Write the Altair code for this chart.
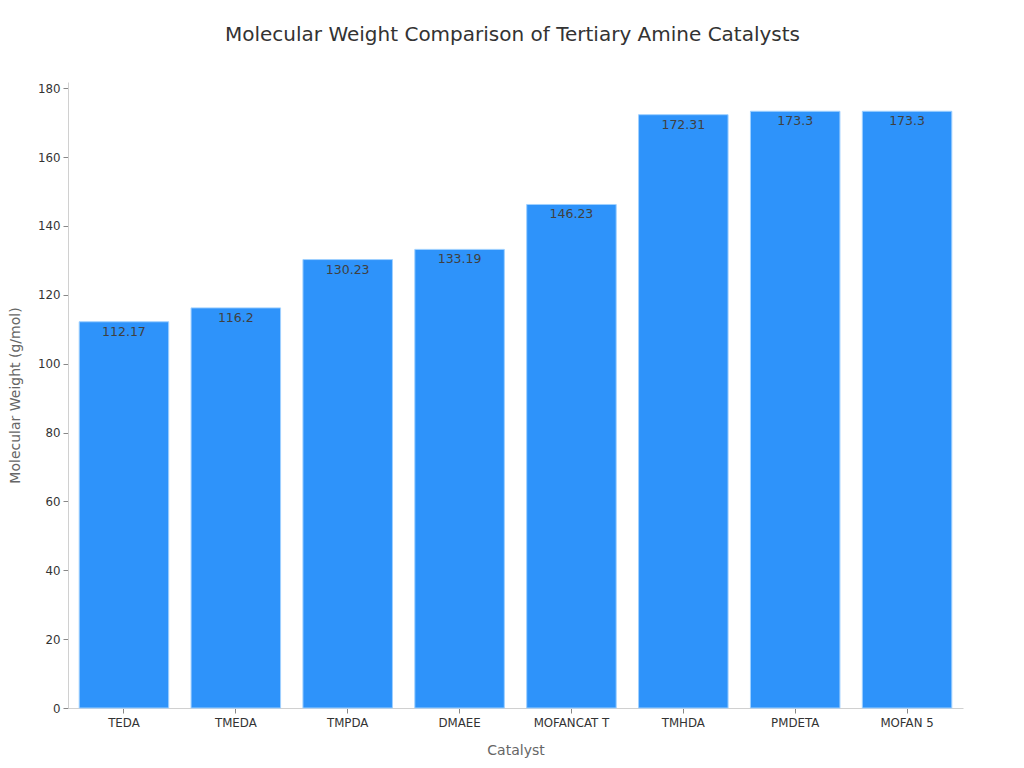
import altair as alt
import pandas as pd

catalysts = ["TEDA", "TMEDA", "TMPDA", "DMAEE", "MOFANCAT T", "TMHDA", "PMDETA", "MOFAN 5"]
weights = [112.17, 116.2, 130.23, 133.19, 146.23, 172.31, 173.3, 173.3]
labels = ["112.17", "116.2", "130.23", "133.19", "146.23", "172.31", "173.3", "173.3"]

df = pd.DataFrame({"Catalyst": catalysts, "Weight": weights, "Label": labels})

FONT = "DejaVu Sans"

x = alt.X("Catalyst:N", sort=catalysts,
          scale=alt.Scale(paddingInner=0.2, paddingOuter=0.1),
          axis=alt.Axis(title="Catalyst", labelAngle=0, labelFontSize=11.8, labelColor="#333333",
                        titleFontSize=14, titleColor="#666666", titleFontWeight="normal",
                        titlePadding=15, domainColor="#d0d0d0", tickColor="#888888",
                        tickSize=5, labelPadding=4, labelFont=FONT, titleFont=FONT))
y = alt.Y("Weight:Q",
          scale=alt.Scale(domain=[0, 181.8], nice=False),
          axis=alt.Axis(title="Molecular Weight (g/mol)", values=list(range(0, 181, 20)),
                        grid=False, labelFontSize=11.8, labelColor="#333333",
                        titleFontSize=14, titleColor="#666666", titleFontWeight="normal",
                        titlePadding=15, domainColor="#d0d0d0", tickColor="#888888",
                        tickSize=5, labelPadding=3, labelFont=FONT, titleFont=FONT))

bars = alt.Chart(df).mark_bar(color="#2E93FA", stroke="#9fd0ff", strokeWidth=1).encode(x=x, y=y)
text = alt.Chart(df).mark_text(baseline="top", dy=4, fontSize=12.5, color="#404040", font=FONT).encode(
    x=alt.X("Catalyst:N", sort=catalysts), y="Weight:Q", text="Label:N")

chart = (bars + text).properties(
    width=895, height=626,
    title=alt.TitleParams("Molecular Weight Comparison of Tertiary Amine Catalysts",
                          fontSize=20, font=FONT, color="#333333", fontWeight="normal",
                          anchor="middle", offset=37, dx=-3),
    autosize=alt.AutoSizeParams(type="none"),
    padding={"left": 60, "top": 74, "right": 53, "bottom": 52},
).configure(font=FONT, view=alt.ViewConfig(strokeWidth=0, stroke="transparent"))

chart.save("out.html", embed_options={"renderer": "svg", "actions": False})
